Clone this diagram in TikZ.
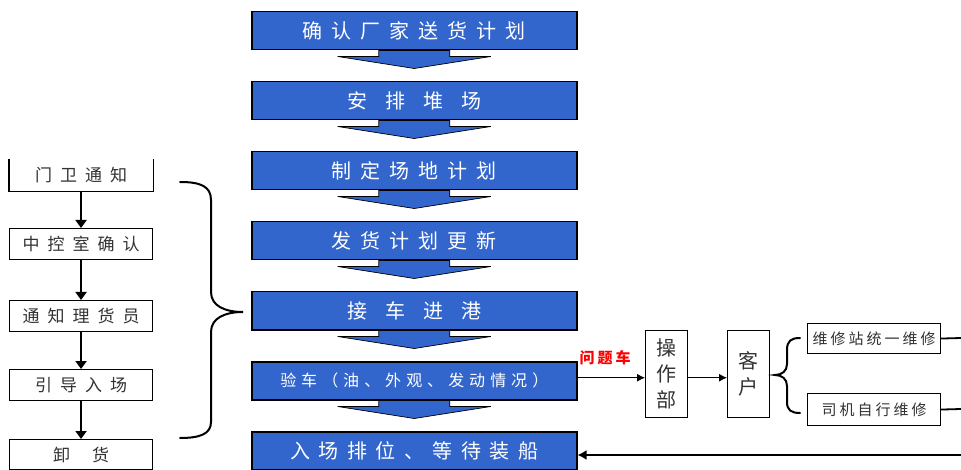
\documentclass[tikz,border=0pt]{standalone}
\usepackage{fontspec}
\newfontfamily\cjk{Noto Sans CJK SC}
\usetikzlibrary{arrows.meta,calc}
\definecolor{boxblue}{RGB}{51,102,204}
\definecolor{txtgray}{RGB}{50,50,50}
\makeatletter
\newcommand\spreadtxt[2]{\def\sp@first{1}\@tfor\sp@c:=#2\do{\ifnum\sp@first=1 \def\sp@first{0}\else\hspace{#1}\fi\sp@c}}
\makeatother
\newcommand\bluearrow[1]{%
  \filldraw[fill=boxblue,draw=black,line width=0.7pt]
    ($(#1.south)+(-35.5,0)$) -- ++(71,0) -- ++(0,6) -- ++(41,0)
    -- ($(#1.south)+(0,18)$) -- ($(#1.south)+(-76.5,6)$) -- ++(41,0) -- cycle;}
\begin{document}
\begin{tikzpicture}[x=1pt,y=-1pt,
  bluebox/.style={draw=black,line width=1.5pt,fill=boxblue,minimum width=325pt,
    minimum height=38pt,inner sep=0pt,anchor=north west,text=white,
    font=\cjk\fontsize{20}{22}\selectfont},
  leftbox/.style={draw=black,line width=1.1pt,fill=white,minimum width=143pt,
    minimum height=31pt,inner sep=0pt,anchor=north west,text=txtgray,
    font=\cjk\fontsize{17}{19}\selectfont},
  vbox/.style={draw=black,line width=1.1pt,fill=white,minimum width=42pt,
    minimum height=87pt,inner sep=0pt,anchor=north west,text=txtgray,align=center,
    font=\cjk\fontsize{20}{26}\selectfont},
  repbox/.style={draw=black,line width=1.1pt,fill=white,minimum width=133pt,
    minimum height=30pt,inner sep=0pt,anchor=north west,text=txtgray,
    font=\cjk\fontsize{15}{17}\selectfont},
  thickarrow/.style={line width=2.6pt,-{Triangle[width=11pt,length=8pt]}},
  thinarrow/.style={line width=1pt,-{Latex[width=8pt,length=8pt]}},
  bracestyle/.style={line width=2pt,line cap=round}]
\useasboundingbox (0,0) rectangle (961,470);

% main blue column
\node[bluebox] (b1) at (251,11) {\spreadtxt{9pt}{确认厂家送货计划}};
\node[bluebox] (b2) at (251,81) {\spreadtxt{18pt}{安排堆场}};
\node[bluebox] (b3) at (251,151) {\spreadtxt{9pt}{制定场地计划}};
\node[bluebox] (b4) at (251,221) {\spreadtxt{9pt}{发货计划更新}};
\node[bluebox] (b5) at (251,291) {\spreadtxt{18pt}{接车进港}};
\node[bluebox,font=\cjk\fontsize{16}{18}\selectfont] (b6) at (251,361) {\spreadtxt{5pt}{验车（油、外观、发动情况）}};
\node[bluebox,minimum height=38pt] (b7) at (251,431) {\spreadtxt{8.5pt}{入场排位、等待装船}};
\bluearrow{b1}
\bluearrow{b2}
\bluearrow{b3}
\bluearrow{b4}
\bluearrow{b5}
\bluearrow{b6}

% left column
\node[leftbox,draw=none] (l1) at (9,159) {\spreadtxt{8pt}{门卫通知}};
\draw[line width=1.1pt] (l1.north west) -- (l1.south west) -- (l1.south east) -- (l1.north east);
\node[leftbox] (l2) at (9,228) {\spreadtxt{8pt}{中控室确认}};
\node[leftbox] (l3) at (9,300) {\spreadtxt{8pt}{通知理货员}};
\node[leftbox] (l4) at (9,369) {\spreadtxt{8pt}{引导入场}};
\node[leftbox,minimum height=30pt] (l5) at (9,439) {\spreadtxt{22pt}{卸货}};
\draw[thickarrow] (l1.south) -- (l2.north);
\draw[thickarrow] (l2.south) -- (l3.north);
\draw[thickarrow] (l3.south) -- (l4.north);
\draw[thickarrow] (l4.south) -- (l5.north);

% big brace
\draw[bracestyle] (180,182) .. controls (200,182) and (211,186) .. (211,200)
  -- (211,292) .. controls (211,306) and (225,312) .. (243,312)
  .. controls (225,312) and (211,318) .. (211,332)
  -- (211,422) .. controls (211,434) and (200,438) .. (180,438);

% right part
\node[vbox] (op) at (645,330) {操\\作\\部};
\node[vbox] (cust) at (727,330) {客\\户};
\coordinate (q) at ([yshift=3pt]b6.east);
\draw[thinarrow] (q) -- (q -| op.west);
\node[text=red,font=\cjk\bfseries\fontsize{15}{17}\selectfont] (lbl) at (605,358) {\spreadtxt{3pt}{问题车}};
\draw[thinarrow] (q -| op.east) -- (q -| cust.west);

\draw[bracestyle] (800,338) .. controls (791,338) and (787,341) .. (787,350)
  -- (787,364) .. controls (787,371) and (782,375) .. (775,375)
  .. controls (782,375) and (787,379) .. (787,386)
  -- (787,402) .. controls (787,410) and (791,413) .. (800,413);

\node[repbox] (r1) at (807,323) {\spreadtxt{3pt}{维修站统一维修}};
\node[repbox,minimum height=32pt] (r2) at (807,393) {\spreadtxt{3pt}{司机自行维修}};
\coordinate (e1) at (961,338);
\coordinate (e2) at (961,409);
\coordinate (e3) at (961,455);
\draw[line width=1.8pt] (r1.east) -- (e1);
\draw[line width=1.8pt] (r2.east) -- (e2);
\draw[line width=1.8pt,-{Latex[width=10pt,length=9pt]}] (e3) -- (e3 -| b7.east);
\end{tikzpicture}
\end{document}
